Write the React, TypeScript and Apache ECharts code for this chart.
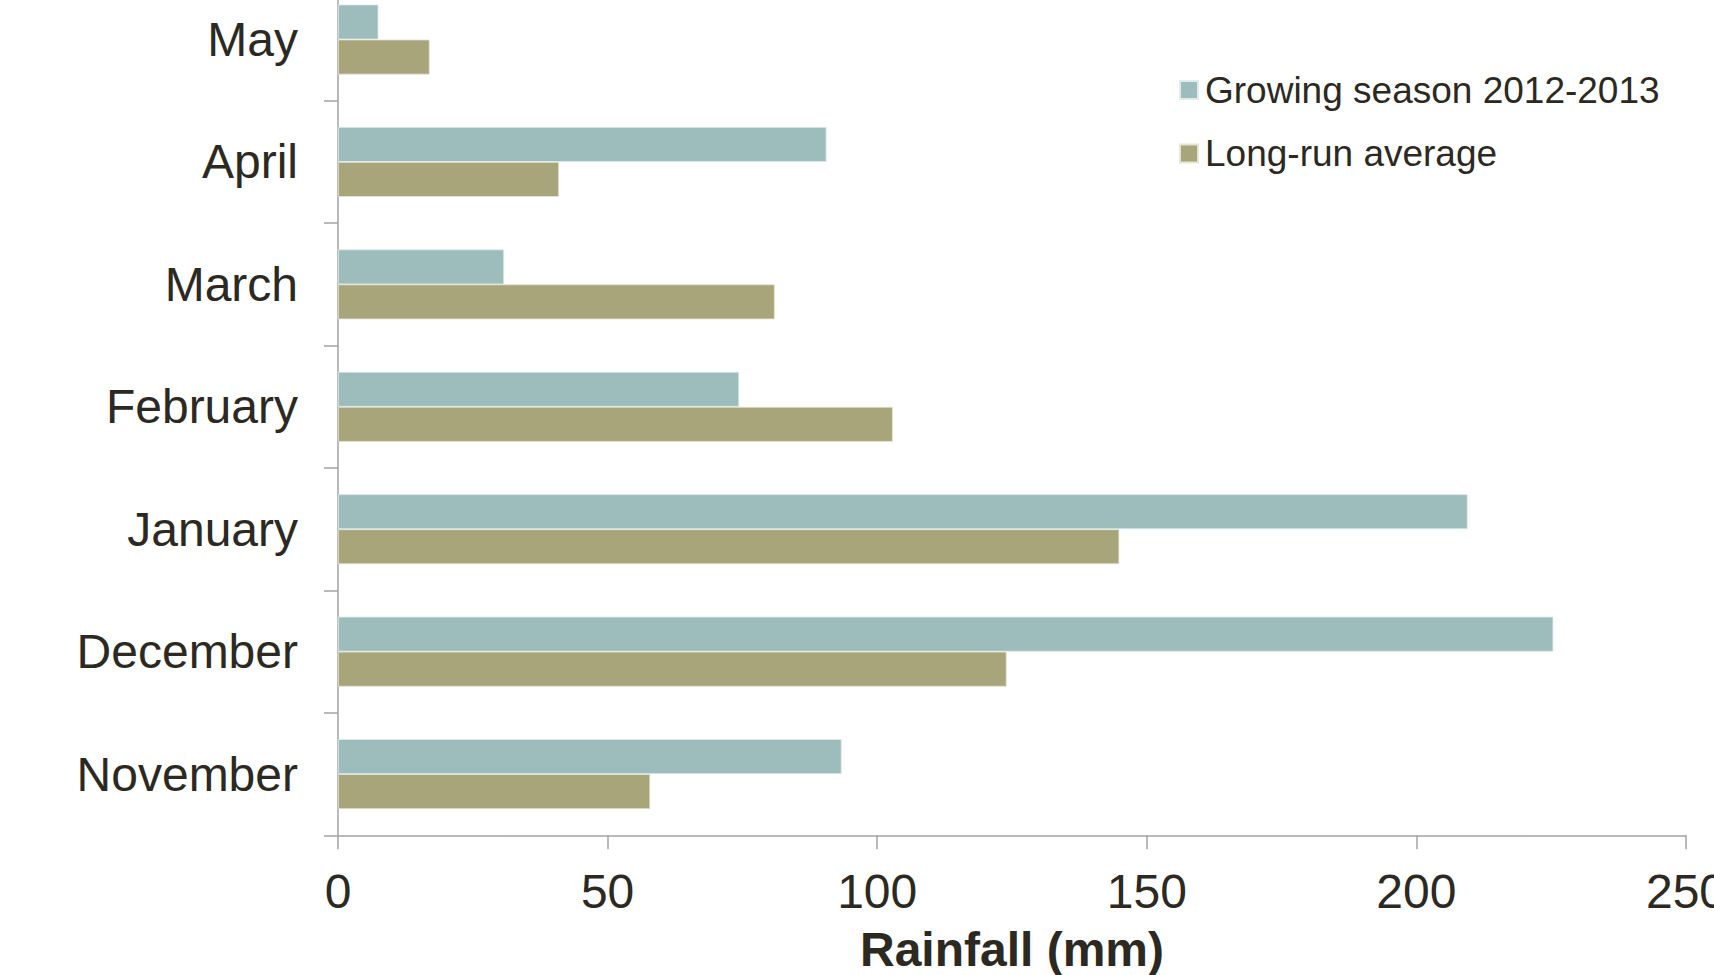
import React, { useEffect, useRef } from "react";
import * as echarts from "echarts";

// Months, listed bottom-to-top as they stack on the category axis
const months = ["November", "December", "January", "February", "March", "April", "May"];

// Rainfall in mm
const growingSeason = [93.4, 225.4, 209.5, 74.4, 30.8, 90.6, 7.5];
const longRunAverage = [57.9, 124.0, 144.9, 102.9, 81.0, 41.0, 17.0];

const seriesNames = ["Growing season 2012-2013", "Long-run average"];
const rainfallTicks = [0, 50, 100, 150, 200, 250];

const FONT = "'Liberation Sans', Arial, Helvetica, sans-serif";
const INK = "#2b2922";
const TEAL = "#9dbdbd";
const OLIVE = "#a8a57b";
const AXIS_GREY = "#a3a3a3";

export default function App() {
  const ref = useRef<HTMLDivElement>(null);

  useEffect(() => {
    if (!ref.current) return;
    const chart = echarts.init(ref.current, undefined, { renderer: "svg" });
    chart.setOption({
      animation: false,
      backgroundColor: "#ffffff",
      textStyle: { fontFamily: FONT, color: INK },
      grid: {
        left: 338,
        right: 28,
        top: -21.7,
        bottom: 139.7,
        containLabel: false,
        outerBoundsMode: "none",
      },
      legend: {
        data: seriesNames,
        orient: "vertical",
        left: 1179,
        top: 71.5,
        padding: 0,
        icon: "rect",
        itemWidth: 18,
        itemHeight: 18,
        itemGap: 26.4,
        textStyle: { fontFamily: FONT, fontSize: 37, lineHeight: 37, color: INK, padding: [0, 0, 0, 2] },
      },
      xAxis: {
        type: "value",
        min: rainfallTicks[0],
        max: rainfallTicks[rainfallTicks.length - 1],
        interval: 50,
        name: "Rainfall (mm)",
        nameLocation: "middle",
        nameGap: 90,
        nameTextStyle: { fontFamily: FONT, fontSize: 48, fontWeight: "bold", color: INK },
        axisLine: { show: true, lineStyle: { color: AXIS_GREY, width: 1.5 } },
        axisTick: { show: true, length: 14, lineStyle: { color: AXIS_GREY, width: 1.5 } },
        axisLabel: { fontFamily: FONT, fontSize: 48, color: INK, margin: 32, showMaxLabel: true },
        splitLine: { show: false },
      },
      yAxis: {
        type: "category",
        data: months,
        boundaryGap: true,
        axisLine: { show: true, lineStyle: { color: AXIS_GREY, width: 1.5 } },
        axisTick: { show: true, length: 14, lineStyle: { color: AXIS_GREY, width: 1.5 } },
        axisLabel: { fontFamily: FONT, fontSize: 48, color: INK, margin: 40 },
      },
      series: [
        {
          name: seriesNames[0],
          type: "bar",
          data: growingSeason,
          barGap: "0%",
          barCategoryGap: "42.8%",
          itemStyle: { color: TEAL, borderColor: "#e2ecec", borderWidth: 0.8 },
        },
        {
          name: seriesNames[1],
          type: "bar",
          data: longRunAverage,
          barGap: "0%",
          barCategoryGap: "42.8%",
          itemStyle: { color: OLIVE, borderColor: "#e6e6d8", borderWidth: 0.8 },
        },
      ],
    });
    return () => chart.dispose();
  }, []);

  return (
    <div
      ref={ref}
      style={{ position: "fixed", left: 0, top: 0, width: 1714, height: 975, background: "#fff" }}
    />
  );
}
